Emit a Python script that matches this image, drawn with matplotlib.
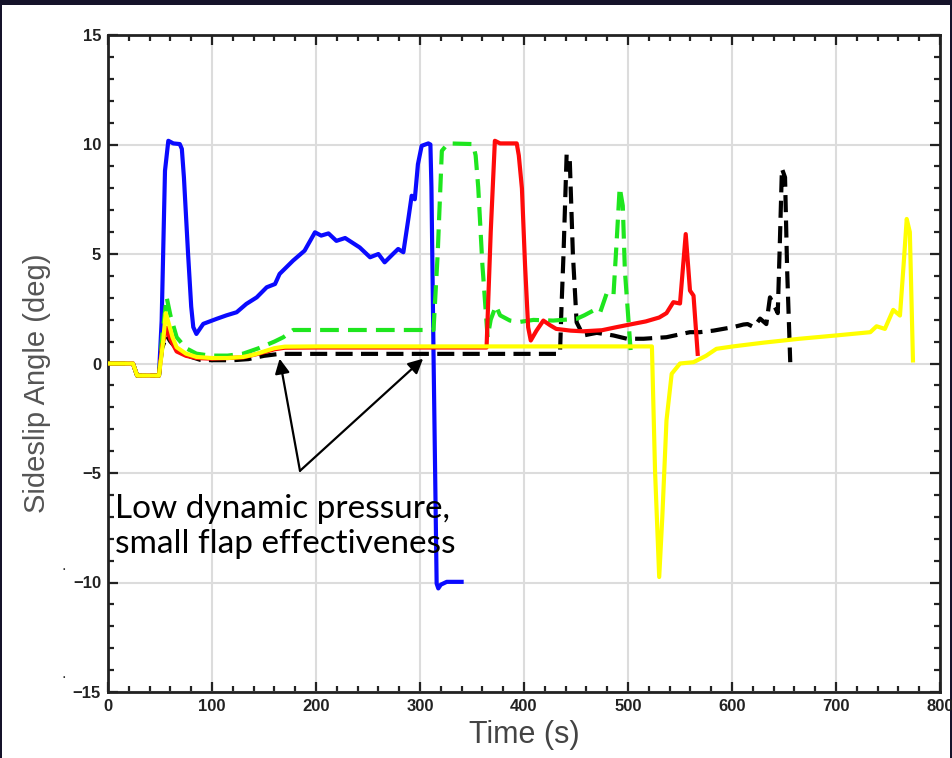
import numpy as np
import matplotlib
matplotlib.use('Agg')
import matplotlib.pyplot as plt
from matplotlib.patches import Rectangle
from matplotlib.ticker import MultipleLocator

plt.rcParams['font.family'] = ['Liberation Sans', 'DejaVu Sans']

# ---- data (time s, sideslip deg) ----
blue_t = [0, 24, 28, 49, 51.6, 54.8, 58, 62.8, 69, 71, 73, 77, 80, 82, 85, 91.6, 104.5, 114, 123.7,
          133, 143, 152.6, 160.6, 165, 178, 189, 199, 205, 212, 219.6, 228, 242, 252, 260,
          266, 274, 279, 284, 289, 292, 295, 298, 301.6, 308, 310, 311, 313, 316, 317.6,
          320, 325.7, 340]
blue_b = [0, 0, -0.55, -0.55, 1.96, 8.8, 10.17, 10.05, 10.02, 9.8, 8.5, 5.0, 2.6, 1.66, 1.35, 1.81,
          2.04, 2.2, 2.34, 2.72, 3.02, 3.48, 3.63, 4.09, 4.7, 5.15, 5.99, 5.84, 5.94, 5.6, 5.73,
          5.3, 4.85, 5.0, 4.62, 5.0, 5.23, 5.08, 6.67, 7.66, 7.5, 9.1, 9.94, 10.05, 10.0, 8.04,
          0.44, -10.05, -10.27, -10.1, -9.97, -9.97]

black_t = [0, 24, 28, 49, 52, 56.4, 60, 69, 80, 88.5, 100, 120, 135, 150, 165, 434.6, 436, 438,
           441, 444, 447, 450.6, 457, 470, 486, 499, 515, 537, 559.6, 569, 582, 601, 611, 615,
           621, 627, 633, 636.5, 641, 644, 646, 648, 651, 653, 656]
black_b = [0, 0, -0.55, -0.55, 0.7, 1.28, 1.0, 0.52, 0.3, 0.17, 0.15, 0.15, 0.2, 0.35, 0.44, 0.44,
           2.5, 5.0, 9.56, 9.3, 5.0, 1.88, 1.28, 1.4, 1.28, 1.13, 1.13, 1.2, 1.43, 1.43, 1.5,
           1.66, 1.78, 1.8, 1.66, 2.05, 1.8, 3.02, 2.6, 2.3, 5.5, 8.9, 8.5, 4.3, 0.06]

green_t = [0, 24, 28, 49, 52, 56.4, 60, 66, 75, 85, 98, 115, 130, 145, 160, 168.6, 178, 313, 317,
           321, 327, 351, 353.5, 356, 360, 365, 368, 373, 377, 386.5, 396, 409, 428, 450.6,
           458, 466.7, 473, 479.5, 486, 489, 492, 495, 497, 503]
green_b = [0, 0, -0.55, -0.55, 1.2, 3.02, 2.2, 1.2, 0.7, 0.45, 0.36, 0.36, 0.45, 0.7, 1.0, 1.2,
           1.53, 1.53, 5.0, 9.71, 10.05, 10.02, 9.5, 8.04, 4.5, 1.2, 2.0, 2.64, 2.2, 1.96, 1.9,
           1.99, 1.96, 2.04, 2.2, 2.42, 2.3, 3.2, 3.1, 5.5, 8.04, 7.2, 4.24, 0.3]

red_t = [0, 24, 28, 49, 52, 56.4, 60, 66, 75, 85, 100, 130, 145, 160, 170, 200, 364, 368, 372,
         377, 393, 395, 398, 401, 404, 406.5, 412, 418.6, 425, 431, 445, 457, 475, 489, 505,
         517, 530, 537, 543.6, 550, 555.5, 559.6, 563, 567]
red_b = [0, 0, -0.55, -0.55, 0.8, 1.63, 1.1, 0.55, 0.35, 0.25, 0.22, 0.28, 0.45, 0.65, 0.72,
         0.73, 0.73, 6.0, 10.17, 10.05, 10.05, 9.5, 8.0, 4.5, 1.65, 1.05, 1.5, 1.96, 1.75, 1.58,
         1.5, 1.47, 1.52, 1.66, 1.81, 1.92, 2.1, 2.3, 2.8, 2.74, 5.91, 3.33, 3.1, 0.44]

yellow_t = [0, 24, 28, 49, 53, 55.5, 58, 62, 66, 75, 85, 100, 115, 130, 140, 150, 160, 170, 200,
            523, 526, 530, 533, 537, 542, 550, 563, 575, 585, 601, 630, 665, 700, 733, 739,
            747, 755, 761.5, 765, 768, 771, 774]
yellow_b = [0, 0, -0.55, -0.55, 1.0, 2.3, 1.9, 1.2, 0.74, 0.45, 0.3, 0.25, 0.25, 0.3, 0.4, 0.55,
            0.7, 0.77, 0.78, 0.78, -4.9, -9.75, -7.0, -2.6, -0.47, 0.0, 0.06, 0.35, 0.67, 0.78,
            0.95, 1.13, 1.28, 1.43, 1.7, 1.58, 2.45, 2.19, 4.5, 6.6, 6.0, 0.14]

note = 'Low dynamic pressure,\nsmall flap effectiveness'
note_from = (184.6, -4.9)
note_to = [(165, 0.22), (303, 0.22)]

fig = plt.figure(figsize=(9.53, 7.58), dpi=100)
fig.patch.set_facecolor('#15132a')
fig.add_artist(Rectangle((0.002, 0), 0.995, 1 - 5 / 758, transform=fig.transFigure,
                         facecolor='white', edgecolor='none', zorder=0))

ax = fig.add_axes([108 / 953, 66 / 758, 832 / 953, 657 / 758])
ax.set_facecolor('white')

lw = 3.0
ax.plot(blue_t, blue_b, color='#0a0aff', lw=lw, zorder=3)
ax.plot(black_t, black_b, color='black', lw=lw, dashes=(4.1, 2.0), zorder=4)
ax.plot(green_t, green_b, color='#1ee61e', lw=lw, dashes=(4.5, 2.2), zorder=5)
ax.plot(red_t, red_b, color='#ff0a0a', lw=lw, zorder=6)
ax.plot(yellow_t, yellow_b, color='#ffff00', lw=lw, zorder=7)

ax.set_xlim(0, 800)
ax.set_ylim(-15, 15)
ax.xaxis.set_major_locator(MultipleLocator(100))
ax.xaxis.set_minor_locator(MultipleLocator(20))
ax.yaxis.set_major_locator(MultipleLocator(5))
ax.yaxis.set_minor_locator(MultipleLocator(1))
ax.grid(True, which='major', color='#dcdcdc', lw=1.5, zorder=0)
ax.tick_params(which='both', direction='in', top=True, right=True, width=1.6, color='#222222')
ax.tick_params(which='major', length=7, pad=5)
ax.tick_params(which='minor', length=4)
for s in ax.spines.values():
    s.set_linewidth(2)
    s.set_color('#222222')
for lab in ax.get_xticklabels() + ax.get_yticklabels():
    lab.set_fontweight('bold')
    lab.set_fontsize(12)
    lab.set_color('#222222')

ax.set_xlabel('Time (s)', fontsize=22, color='#444444', labelpad=4)
ax.set_ylabel('Sideslip Angle (deg)', fontsize=21, color='#555555')
ax.yaxis.set_label_coords(-0.068, 0.47)

ax.text(6.5, -5.95, note, ha='left', va='top', fontsize=24, family=['Lato', 'DejaVu Sans'],
        linespacing=1.2, zorder=8)
for tip in note_to:
    ax.annotate('', xy=tip, xytext=note_from,
                arrowprops=dict(arrowstyle='-|>', color='black', lw=1.6,
                                mutation_scale=22, shrinkA=0, shrinkB=0), zorder=9)

# two stray dots left of the axis
fig.text(62 / 953, 1 - 570 / 758, '.', fontsize=12, color='#333333')
fig.text(62 / 953, 1 - 678 / 758, '.', fontsize=12, color='#333333')

fig.savefig('out.png', dpi=100, facecolor=fig.get_facecolor())
